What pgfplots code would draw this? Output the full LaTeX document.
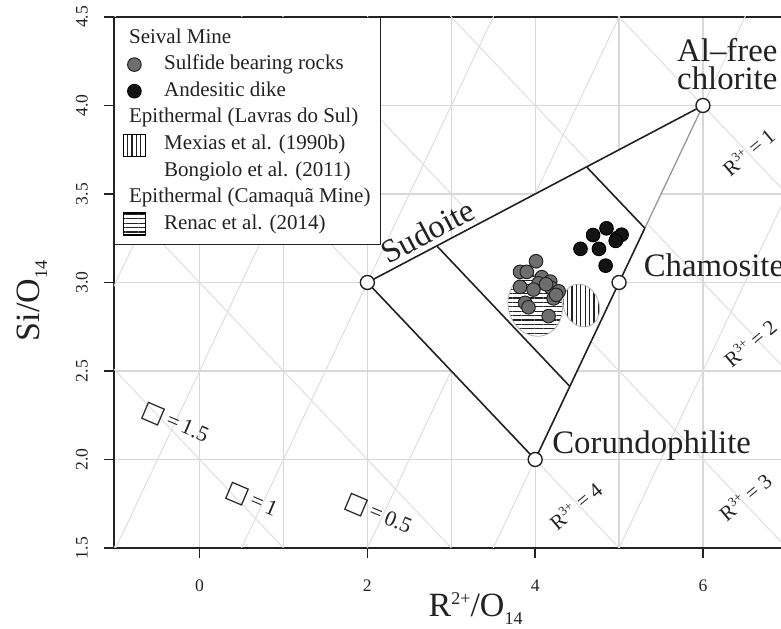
\documentclass[border=0pt]{standalone}
\usepackage{fontspec}
\setmainfont{Liberation Serif}
\newfontfamily\symfont[Scale=1.1]{DejaVu Sans}
\usepackage{pgfplots}
\pgfplotsset{compat=1.18}
\usetikzlibrary{patterns.meta}

\definecolor{gridgray}{HTML}{D8D8D8}
\definecolor{diaggray}{HTML}{DEDEDE}
\definecolor{sulfide}{HTML}{6E6E6E}
\definecolor{ink}{HTML}{222222}

% small raised / lowered indices as in the original figure
\newcommand{\upx}[2][9]{\raisebox{0.8ex}{\fontsize{#1}{#1}\selectfont #2}}
\newcommand{\dnx}[2][9]{\raisebox{-0.45ex}{\fontsize{#1}{#1}\selectfont #2}}

\tikzset{
  hlines/.style={pattern={Lines[angle=0,distance=2.2pt,line width=0.55pt]}, pattern color=ink},
  vlines/.style={pattern={Lines[angle=90,distance=2.2pt,line width=0.55pt]}, pattern color=ink},
  vlabel/.style={font=\fontsize{16.4}{14}\selectfont, text=ink, inner sep=0pt},
  rlabel/.style={font=\fontsize{10.5}{12}\selectfont, text=ink, inner sep=0pt, rotate=40},
  qlabel/.style={font=\fontsize{11}{12}\selectfont, text=ink, inner sep=0pt, rotate=-23},
  ylab/.style={font=\fontsize{8.8}{10}\selectfont, text=ink, inner sep=0pt, rotate=90},
}

\begin{document}
\begin{tikzpicture}
\begin{axis}[
  x=41.95pt, y=88.5pt,
  xmin=-1.02, xmax=7.6, ymin=1.5, ymax=4.5,
  axis line style={line width=0.8pt, ink},
  xtick={0,2,4,6},
  ytick={1.5,2,2.5,3,3.5,4,4.5},
  yticklabels={},
  minor xtick={1,3,5,7},
  xtick pos=bottom, ytick pos=left,
  tick align=outside,
  major tick length=5pt, minor tick length=0pt,
  tick style={line width=0.8pt, ink},
  xmajorgrids, xminorgrids, ymajorgrids,
  major grid style={gridgray, line width=0.6pt},
  minor grid style={gridgray, line width=0.6pt},
  /pgf/number format/assume math mode=true,
  ticklabel style={font=\fontsize{8.8}{10}\selectfont, text=ink},
  xticklabel style={anchor=center, yshift=-14pt},
  xlabel={R\upx{2+}/O\dnx{14}},
  ylabel={Si/O\dnx{14}},
  every axis x label/.style={at={(rel axis cs:0.5,0)}, anchor=base, yshift=-34.5pt},
  every axis y label/.style={at={(rel axis cs:0,0.465)}, xshift=-37pt, rotate=90, anchor=base},
  label style={font=\fontsize{17}{20}\selectfont, text=ink},
  legend cell align=left,
  legend style={at={(rel axis cs:0,1)}, anchor=north west, draw=ink, line width=0.7pt,
    fill=white, font=\fontsize{10.5}{12}\selectfont, text=ink,
    inner xsep=4pt, inner ysep=3.5pt, column sep=8pt, row sep=0pt,
    nodes={text height=8.2pt, text depth=3.1pt, inner sep=1pt}},
]
% R3+ guide lines (slope -1/2)
\addplot[diaggray, line width=0.5pt, forget plot] coordinates {(-2,2) (9,-3.5)};
\addplot[diaggray, line width=0.5pt, forget plot] coordinates {(-2,3) (9,-2.5)};
\addplot[diaggray, line width=0.5pt, forget plot] coordinates {(-2,4) (9,-1.5)};
\addplot[diaggray, line width=0.5pt, forget plot] coordinates {(-2,5) (9,-0.5)};
\addplot[diaggray, line width=0.5pt, forget plot] coordinates {(-2,6) (9,0.5)};
\addplot[diaggray, line width=0.5pt, forget plot] coordinates {(-2,7) (9,1.5)};
\addplot[diaggray, line width=0.5pt, forget plot] coordinates {(-2,8) (9,2.5)};
\addplot[diaggray, line width=0.5pt, forget plot] coordinates {(-2,9) (9,3.5)};
% vacancy guide lines (slope 1)
\addplot[diaggray, line width=0.5pt, forget plot] coordinates {(-2,2) (9,13)};
\addplot[diaggray, line width=0.5pt, forget plot] coordinates {(-2,0.5) (9,11.5)};
\addplot[diaggray, line width=0.5pt, forget plot] coordinates {(-2,-1) (9,10)};
\addplot[diaggray, line width=0.5pt, forget plot] coordinates {(-2,-2.5) (9,8.5)};
\addplot[diaggray, line width=0.5pt, forget plot] coordinates {(-2,-4) (9,7)};
\addplot[diaggray, line width=0.5pt, forget plot] coordinates {(-2,-5.5) (9,5.5)};

% chlorite field
\addplot[fill=white, draw=none, forget plot] coordinates {(2,3) (6,4) (4,2) (2,3)};
\draw[hlines, draw=gray!60, line width=0.4pt] (axis cs:4.0,2.87) ellipse [x radius=13.4pt, y radius=15.6pt, rotate=18];
\draw[vlines, draw=gray!60, line width=0.4pt] (axis cs:4.55,2.87) ellipse [x radius=8.8pt, y radius=11pt, rotate=22];

\addplot[ink, line width=0.8pt, forget plot] coordinates {(5.307,3.307) (4,2) (2,3) (6,4)};
\addplot[gray!85, line width=0.6pt, forget plot] coordinates {(6,4) (5.307,3.307)};
\addplot[ink, line width=0.8pt, forget plot] coordinates {(2.827,3.207) (4.413,2.413)};
\addplot[ink, line width=0.8pt, forget plot] coordinates {(4.613,3.653) (5.307,3.307)};

% Seival Mine: sulfide bearing rocks
\addplot[only marks, mark=*, mark size=3.4pt, forget plot,
  mark options={fill=sulfide, draw=ink, line width=0.5pt}] coordinates {
  (4.01,3.12) (3.82,3.06) (3.90,3.06) (4.08,3.03) (4.04,2.995) (4.18,3.005)
  (3.82,2.975) (3.98,2.96) (4.19,2.97) (4.28,2.95) (4.22,2.91) (3.88,2.885)
  (3.92,2.86) (4.16,2.81) (4.25,2.93) (4.13,2.99)
};
% Seival Mine: andesitic dike
\addplot[only marks, mark=*, mark size=3.4pt, forget plot,
  mark options={fill=black!92, draw=black, line width=0.5pt}] coordinates {
  (4.85,3.306) (4.69,3.268) (4.54,3.19) (4.76,3.19) (4.975,3.25)
  (5.03,3.27) (4.84,3.095) (4.96,3.235)
};
% end members
\addplot[only marks, mark=*, mark size=3.5pt, forget plot,
  mark options={fill=white, draw=ink, line width=0.7pt}] coordinates {
  (2,3) (6,4) (5,3) (4,2)
};

\node[vlabel, rotate=28] at (axis cs:2.72,3.29) {Sudoite};
\node[vlabel, align=center] at (axis cs:6.29,4.234) {Al–free\\chlorite};
\node[vlabel, anchor=base west] at (axis cs:5.29,3.033) {Chamosite};
\node[vlabel, anchor=base west] at (axis cs:4.20,2.035) {Corundophilite};

\node[rlabel] at (axis cs:6.54,3.74) {R\upx[6.5]{3+} = 1};
\node[rlabel] at (axis cs:6.56,2.66) {R\upx[6.5]{3+} = 2};
\node[rlabel] at (axis cs:6.50,1.79) {R\upx[6.5]{3+} = 3};
\node[rlabel] at (axis cs:4.48,1.74) {R\upx[6.5]{3+} = 4};

\node[qlabel] at (axis cs:-0.29,2.206) {{\symfont □}\,=\,1.5};
\node[qlabel] at (axis cs:0.62,1.77) {{\symfont □}\,=\,1};
\node[qlabel] at (axis cs:2.13,1.69) {{\symfont □}\,=\,0.5};

% anchor points for the sideways y tick labels (set after the axis, unclipped)
\coordinate (ya) at (axis cs:-1.02,1.5);
\coordinate (yb) at (axis cs:-1.02,2.0);
\coordinate (yc) at (axis cs:-1.02,2.5);
\coordinate (yd) at (axis cs:-1.02,3.0);
\coordinate (ye) at (axis cs:-1.02,3.5);
\coordinate (yf) at (axis cs:-1.02,4.0);
\coordinate (yg) at (axis cs:-1.02,4.5);

% legend
\addlegendimage{empty legend}
\addlegendentry{\hspace*{-17.5pt}Seival Mine}
\addlegendimage{legend image code/.code={\draw[only marks, mark=*, mark size=3.4pt, mark options={fill=sulfide, draw=ink, line width=0.5pt}] plot coordinates {(0pt,0pt)};}}
\addlegendentry{Sulfide bearing rocks}
\addlegendimage{legend image code/.code={\draw[only marks, mark=*, mark size=3.4pt, mark options={fill=black!92, draw=black, line width=0.5pt}] plot coordinates {(0pt,0pt)};}}
\addlegendentry{Andesitic dike}
\addlegendimage{empty legend}
\addlegendentry{\hspace*{-17.5pt}Epithermal (Lavras do Sul)}
\addlegendimage{legend image code/.code={\path[vlines] (-5.5pt,-6pt) rectangle (5.5pt,5pt);}}
\addlegendentry{Mexias et al. (1990b)}
\addlegendimage{empty legend}
\addlegendentry{Bongiolo et al. (2011)}
\addlegendimage{empty legend}
\addlegendentry{\hspace*{-17.5pt}Epithermal (Camaquã Mine)}
\addlegendimage{legend image code/.code={\path[hlines] (-5.5pt,-5.5pt) rectangle (5.5pt,5.5pt);}}
\addlegendentry{Renac et al. (2014)}

\coordinate (bl) at (rel axis cs:0,0);
\coordinate (tr) at (axis cs:6.93,4.5);
\end{axis}
\node[ylab] at ([xshift=-16pt]ya) {1.5};
\node[ylab] at ([xshift=-16pt]yb) {2.0};
\node[ylab] at ([xshift=-16pt]yc) {2.5};
\node[ylab] at ([xshift=-16pt]yd) {3.0};
\node[ylab] at ([xshift=-16pt]ye) {3.5};
\node[ylab] at ([xshift=-16pt]yf) {4.0};
\node[ylab] at ([xshift=-16pt]yg) {4.5};
\pgfresetboundingbox
\path[use as bounding box] ([xshift=-57pt,yshift=-40pt]bl) rectangle ([yshift=8.5pt]tr);
\end{tikzpicture}
\end{document}
